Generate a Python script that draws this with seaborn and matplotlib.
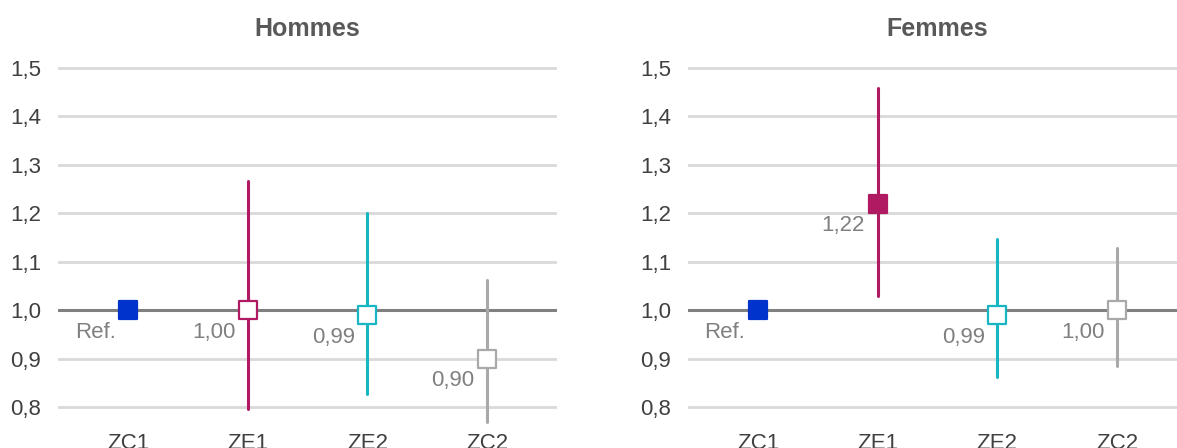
import numpy as np
import pandas as pd
import matplotlib
matplotlib.use("Agg")
import matplotlib.pyplot as plt
import seaborn as sns
from matplotlib.ticker import FuncFormatter

# Categories and colours
zones = ["ZC1", "ZE1", "ZE2", "ZC2"]
zone_colors = ["#0033CC", "#B01A62", "#16B6C3", "#A9A9A9"]

# Hommes: estimate, lower and upper bound of the interval (ZC1 is the reference)
hommes_est = [1.00, 1.00, 0.99, 0.90]
hommes_low = [1.00, 0.796, 0.826, 0.769]
hommes_high = [1.00, 1.267, 1.200, 1.063]
hommes_filled = [True, False, False, False]
hommes_labels = ["Ref.", "1,00", "0,99", "0,90"]

# Femmes
femmes_est = [1.00, 1.22, 0.99, 1.00]
femmes_low = [1.00, 1.029, 0.862, 0.885]
femmes_high = [1.00, 1.458, 1.146, 1.128]
femmes_filled = [True, True, False, False]
femmes_labels = ["Ref.", "1,22", "0,99", "1,00"]

panels = [
    ("Hommes", hommes_est, hommes_low, hommes_high, hommes_filled, hommes_labels),
    ("Femmes", femmes_est, femmes_low, femmes_high, femmes_filled, femmes_labels),
]

sns.set_theme(style="white")
plt.rcParams["font.family"] = ["Liberation Sans", "DejaVu Sans"]

fig = plt.figure(figsize=(11.77, 4.48), dpi=100)
axes = [fig.add_axes([0.0493, 0.0374, 0.4239, 0.8325]),
        fig.add_axes([0.5845, 0.0374, 0.4239, 0.8325])]

for ax, (title, est, low, high, filled, labels) in zip(axes, panels):
    # long table: each zone contributes its lower bound, estimate, upper bound
    long = pd.DataFrame({
        "zone": np.repeat(zones, 3),
        "value": np.ravel(np.column_stack([low, est, high])),
    })
    for y in [0.8, 0.9, 1.1, 1.2, 1.3, 1.4, 1.5]:
        ax.axhline(y, color="#D9D9D9", lw=2.0, zorder=0)
    ax.axhline(1.0, color="#808080", lw=2.2, zorder=1)

    # intervals: median of (low, est, high) is the estimate, full range is the interval
    sns.pointplot(data=long, x="zone", y="value", hue="zone", order=zones,
                  hue_order=zones, palette=zone_colors, estimator="median",
                  errorbar=("pi", 100), linestyle="none", marker="",
                  err_kws={"linewidth": 2.2, "zorder": 2}, legend=False, ax=ax)

    pts = pd.DataFrame({"zone": zones, "est": est})
    for i, (z, c, f) in enumerate(zip(zones, zone_colors, filled)):
        sns.scatterplot(data=pts.iloc[[i]], x="zone", y="est", marker="s", s=165,
                        color=c if f else "white", edgecolor=c, linewidth=1.6,
                        zorder=4, ax=ax, legend=False)
        ax.annotate(labels[i], (i, est[i]), xytext=(-9, -16), textcoords="offset points",
                    ha="right", va="center", fontsize=16, color="#808080")

    ax.set_xlim(-0.585, 3.585)
    ax.set_ylim(0.75, 1.52)
    ax.set_yticks([0.8, 0.9, 1.0, 1.1, 1.2, 1.3, 1.4, 1.5])
    ax.yaxis.set_major_formatter(FuncFormatter(lambda v, p: f"{v:.1f}".replace(".", ",")))
    ax.set_xlabel("")
    ax.set_ylabel("")
    ax.tick_params(axis="both", length=0, labelsize=16, labelcolor="#404040")
    ax.tick_params(axis="y", pad=12)
    ax.tick_params(axis="x", pad=1)
    for s in ax.spines.values():
        s.set_visible(False)
    ax.set_title(title, fontsize=18, fontweight="bold", color="#595959", pad=16)

fig.savefig("out.png", dpi=100)
